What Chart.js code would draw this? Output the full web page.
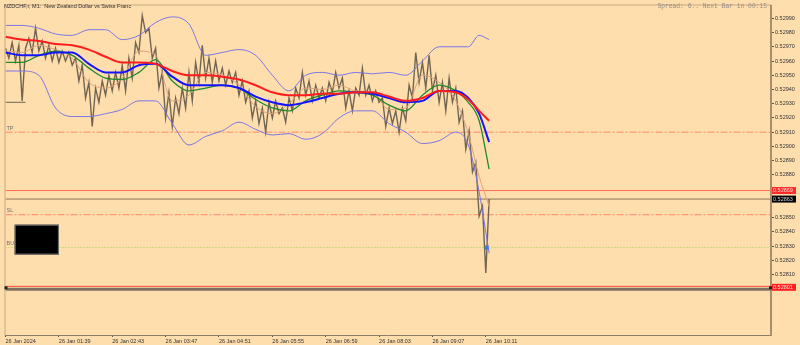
<!DOCTYPE html>
<html>
<head>
<meta charset="utf-8">
<script src="https://cdn.jsdelivr.net/npm/chart.js@4.4.1/dist/chart.umd.min.js"></script>
<style>
html,body{margin:0;padding:0;background:#ffdead;}
#wrap{width:800px;height:345px;}
</style>
</head>
<body>
<div id="wrap"><canvas id="c" width="800" height="345"></canvas></div>
<script>
// NZDCHF M1, 26 Jan 2024 - time values are minutes after midnight
const priceStart = 35;
const priceStep = 4;
const priceValues = [
  0.52969,0.52962,0.52973,0.52960,0.52971,0.52932,0.52969,0.52976,0.52966,0.52983,
  0.52967,0.52974,0.52962,0.52971,0.52960,0.52969,0.52959,0.52967,0.52960,0.52966,
  0.52957,0.52962,0.52946,0.52957,0.52934,0.52945,0.52914,0.52941,0.52931,0.52946,
  0.52936,0.52950,0.52939,0.52952,0.52941,0.52957,0.52939,0.52962,0.52948,0.52973,
  0.52966,0.52992,0.52980,0.52983,0.52962,0.52969,0.52941,0.52952,0.52920,0.52938,
  0.52914,0.52934,0.52923,0.52941,0.52927,0.52952,0.52932,0.52959,0.52945,0.52971,
  0.52948,0.52962,0.52945,0.52960,0.52946,0.52955,0.52943,0.52953,0.52945,0.52952,
  0.52936,0.52946,0.52931,0.52939,0.52920,0.52932,0.52916,0.52927,0.52910,0.52931,
  0.52920,0.52932,0.52923,0.52927,0.52917,0.52934,0.52925,0.52941,0.52934,0.52952,
  0.52936,0.52946,0.52932,0.52943,0.52934,0.52941,0.52932,0.52945,0.52938,0.52952,
  0.52941,0.52948,0.52927,0.52939,0.52925,0.52941,0.52936,0.52955,0.52936,0.52943,
  0.52932,0.52939,0.52931,0.52934,0.52914,0.52927,0.52916,0.52925,0.52910,0.52927,
  0.52918,0.52943,0.52934,0.52966,0.52945,0.52959,0.52941,0.52964,0.52939,0.52950,
  0.52931,0.52945,0.52925,0.52948,0.52931,0.52941,0.52917,0.52925,0.52898,0.52911,
  0.52882,0.52889,0.52851,0.52858,0.52811,0.52863
];

const maTimes = [35,55,75,95,115,135,155,175,195,215,235,255,275,295,315,335,355,375,395,415,435,455,475,495,515,535,555,575,590,603,615];
const maRed = [0.52977,0.52975,0.52974,0.52972,0.52971,0.52968,0.52963,0.52959,0.52959,0.52958,0.52953,0.52950,0.52950,0.52949,0.52947,0.52943,0.52938,0.52936,0.52936,0.52937,0.52937,0.52938,0.52938,0.52935,0.52932,0.52934,0.52939,0.52938,0.52933,0.52925,0.52918];
const maBlue = [0.52966,0.52964,0.52964,0.52966,0.52966,0.52958,0.52952,0.52952,0.52957,0.52958,0.52949,0.52943,0.52943,0.52943,0.52941,0.52935,0.52931,0.52929,0.52931,0.52934,0.52937,0.52938,0.52937,0.52934,0.52931,0.52932,0.52939,0.52939,0.52934,0.52923,0.52903];
const maGreen = [0.52959,0.52959,0.52964,0.52967,0.52964,0.52955,0.52948,0.52947,0.52952,0.52961,0.52946,0.52939,0.52941,0.52943,0.52941,0.52933,0.52927,0.52925,0.52932,0.52936,0.52939,0.52938,0.52936,0.52929,0.52925,0.52936,0.52943,0.52939,0.52931,0.52918,0.52884];
const maTan = [0.52967,0.52966,0.52971,0.52968,0.52962,0.52945,0.52941,0.52948,0.52967,0.52964,0.52932,0.52936,0.52952,0.52950,0.52943,0.52928,0.52923,0.52930,0.52941,0.52940,0.52943,0.52939,0.52938,0.52926,0.52927,0.52950,0.52945,0.52932,0.52909,0.52879,0.52858];
const bandUpper = [0.52985,0.52985,0.52983,0.52979,0.52978,0.52982,0.52982,0.52975,0.52978,0.52987,0.52991,0.52986,0.52964,0.52966,0.52968,0.52964,0.52950,0.52939,0.52950,0.52952,0.52950,0.52952,0.52951,0.52952,0.52950,0.52960,0.52970,0.52970,0.52970,0.52978,0.52975];
const bandLower = [0.52953,0.52953,0.52950,0.52927,0.52921,0.52921,0.52923,0.52926,0.52932,0.52932,0.52916,0.52901,0.52907,0.52911,0.52917,0.52912,0.52908,0.52909,0.52905,0.52909,0.52920,0.52925,0.52925,0.52916,0.52910,0.52902,0.52904,0.52910,0.52901,0.52868,0.52825];

// horizontal levels
const levelTP = 0.52910;
const levelSL = 0.52852;
const levelBuy = 0.52829;
const levelAsk = 0.52869;
const levelBid = 0.52863;
const levelLow = 0.52801;
const segTimes = [35, 59];
const segPrice = 0.52931;
const markTime = 612;
const markPrice = 0.52829;
const boxTimes = [46, 99];
const boxPrices = [0.52845, 0.52824];

// axes
const xMin = 35, xMax = 953;
const yMin = 0.527675, yMax = 0.529990;
const xTickTimes = [35,99,163,227,291,355,419,483,547,611];
const xTickLabels = ['26 Jan 2024','26 Jan 01:39','26 Jan 02:43','26 Jan 03:47','26 Jan 04:51','26 Jan 05:55','26 Jan 06:59','26 Jan 08:03','26 Jan 09:07','26 Jan 10:11'];
const yTickValues = [0.52810,0.52820,0.52830,0.52840,0.52850,0.52880,0.52890,0.52900,0.52910,0.52920,0.52930,0.52940,0.52950,0.52960,0.52970,0.52980,0.52990];

const FONT = 'Liberation Sans';

function pts(times, vals){ return vals.map((v,i)=>({x:times[i], y:v})); }
function hline(v){ return [{x:xMin,y:v},{x:xMax,y:v}]; }

const priceData = priceValues.map((v,i)=>({x:priceStart+i*priceStep, y:v}));

function lineDs(data, color, width, order, extra){
  return Object.assign({data, borderColor:color, borderWidth:width, pointRadius:0, fill:false, order}, extra||{});
}
const smooth = {cubicInterpolationMode:'monotone'};

const overlay = {
  id:'overlay',
  beforeDraw(chart){
    const {ctx, width, height, chartArea:a} = chart;
    ctx.save();
    ctx.fillStyle='#ffdead';
    ctx.fillRect(0,0,width,height);
    ctx.strokeStyle='#c4a77e';
    ctx.lineWidth=1;
    ctx.beginPath();
    ctx.moveTo(a.left-0.5, a.bottom); ctx.lineTo(a.left-0.5, a.top-0.5); ctx.lineTo(a.right, a.top-0.5);
    ctx.stroke();
    ctx.restore();
  },
  afterDatasetsDraw(chart){
    const {ctx, chartArea:a, scales:{x,y}} = chart;
    ctx.save();
    ctx.font='5.5px "'+FONT+'"';
    ctx.fillStyle='#707070';
    ctx.textBaseline='bottom';
    [['TP',levelTP],['SL',levelSL],['BUY',levelBuy]].forEach(([n,v])=>{
      ctx.fillText(n, a.left+1, y.getPixelForValue(v)-1);
    });
    const bx0=x.getPixelForValue(boxTimes[0]), bx1=x.getPixelForValue(boxTimes[1]);
    const by0=y.getPixelForValue(boxPrices[0]), by1=y.getPixelForValue(boxPrices[1]);
    ctx.fillStyle='#000';
    ctx.fillRect(bx0,by0,bx1-bx0,by1-by0);
    ctx.strokeStyle='#777';
    ctx.strokeRect(bx0+0.5,by0+0.5,bx1-bx0-1,by1-by0-1);
    const ly=y.getPixelForValue(levelLow);
    ctx.fillStyle='#222';
    ctx.fillRect(a.left-1, ly-1, 3, 3);
    ctx.restore();
  },
  afterDraw(chart){
    const {ctx, chartArea:a, scales:{y}} = chart;
    ctx.save();
    ctx.textBaseline='middle';
    ctx.font='5.5px "'+FONT+'"';
    ctx.fillStyle='#333';
    ctx.fillText('NZDCHF,r, M1:  New Zealand Dollar vs Swiss Franc', 4, 6);
    ctx.font='6.3px "Liberation Mono"';
    ctx.fillStyle='#968f88';
    ctx.textAlign='right';
    ctx.fillText('Spread: 6.. Next Bar in 00:15', a.right-4, 6);
    ctx.textAlign='left';
    ctx.font='5.5px "'+FONT+'"';
    [[levelAsk,'#ff2a2a','#ffd8d0'],[levelBid,'#000','#cfcfcf'],[levelLow,'#ff2020','#ffd8d0']].forEach(([v,bg,fg])=>{
      const py=y.getPixelForValue(v);
      ctx.fillStyle=bg;
      ctx.fillRect(a.right+1, py-3.5, 24, 7);
      ctx.fillStyle=fg;
      ctx.fillText(v.toFixed(5), a.right+2, py+0.3);
    });
    const ly=y.getPixelForValue(levelLow);
    ctx.fillStyle='#222';
    ctx.fillRect(a.right-2, ly-1, 3, 3);
    ctx.restore();
  }
};

new Chart(document.getElementById('c').getContext('2d'), {
  type:'line',
  data:{
    datasets:[
      lineDs([{x:markTime,y:markPrice}], '#1e7fff', 1.5, 0, {showLine:false, pointRadius:2.5, pointStyle:'crossRot', pointBorderColor:'#1e7fff', pointBorderWidth:1.5}),
      lineDs(pts(maTimes, maRed), '#ff1c1c', 2, 1, smooth),
      lineDs(pts(maTimes, maBlue), '#1414ff', 2, 2, smooth),
      lineDs(pts(maTimes, maGreen), '#23892a', 1.3, 3, smooth),
      lineDs(pts(maTimes, maTan), '#dca27e', 1, 4, smooth),
      lineDs(pts(maTimes, bandUpper), '#7b76e6', 1, 5, smooth),
      lineDs(pts(maTimes, bandLower), '#7b76e6', 1, 5, smooth),
      lineDs(priceData, '#716552', 1.4, 6),
      lineDs(pts(segTimes, [segPrice, segPrice]), '#6e6352', 1, 6),
      lineDs(hline(levelTP), '#ff8a6a', 1, 10, {borderDash:[7,2,2,2]}),
      lineDs(hline(levelSL), '#ff8a6a', 1, 10, {borderDash:[7,2,2,2]}),
      lineDs(hline(levelBuy), '#9fd04a', 1, 10, {borderDash:[1,2]}),
      lineDs(hline(levelAsk), '#ff6b55', 1, 10),
      lineDs(hline(levelBid), '#8c7457', 1, 10),
      lineDs(hline(levelLow-0.000013), '#7e7262', 3, 11),
      lineDs(hline(levelLow+0.000007), '#ff4a3a', 1, 10)
    ]
  },
  options:{
    responsive:false,
    animation:false,
    events:[],
    layout:{padding:{left:2, top:2, right:0, bottom:0}},
    plugins:{legend:{display:false}, tooltip:{enabled:false}},
    scales:{
      x:{
        type:'linear', position:'bottom', min:xMin, max:xMax,
        afterFit(s){ s.height = 10; },
        afterBuildTicks(s){ s.ticks = xTickTimes.map(v=>({value:v})); },
        grid:{drawOnChartArea:false, drawTicks:true, tickLength:2, color:'#555'},
        border:{display:true, color:'#8c7b66', width:1},
        ticks:{autoSkip:false, maxRotation:0, align:'start', padding:1, color:'#333',
          font:{family:FONT, size:5.5},
          callback:(v,i)=>xTickLabels[i]}
      },
      y:{
        type:'linear', position:'right', min:yMin, max:yMax,
        afterFit(s){ s.width = 29; },
        afterBuildTicks(s){ s.ticks = yTickValues.map(v=>({value:v})); },
        grid:{drawOnChartArea:false, drawTicks:true, tickLength:3, color:'#555'},
        border:{display:true, color:'#a88e6c', width:2},
        ticks:{autoSkip:false, padding:1, color:'#333',
          font:{family:FONT, size:5.5},
          callback:(v)=>Number(v).toFixed(5)}
      }
    }
  },
  plugins:[overlay]
});
</script>
</body>
</html>
